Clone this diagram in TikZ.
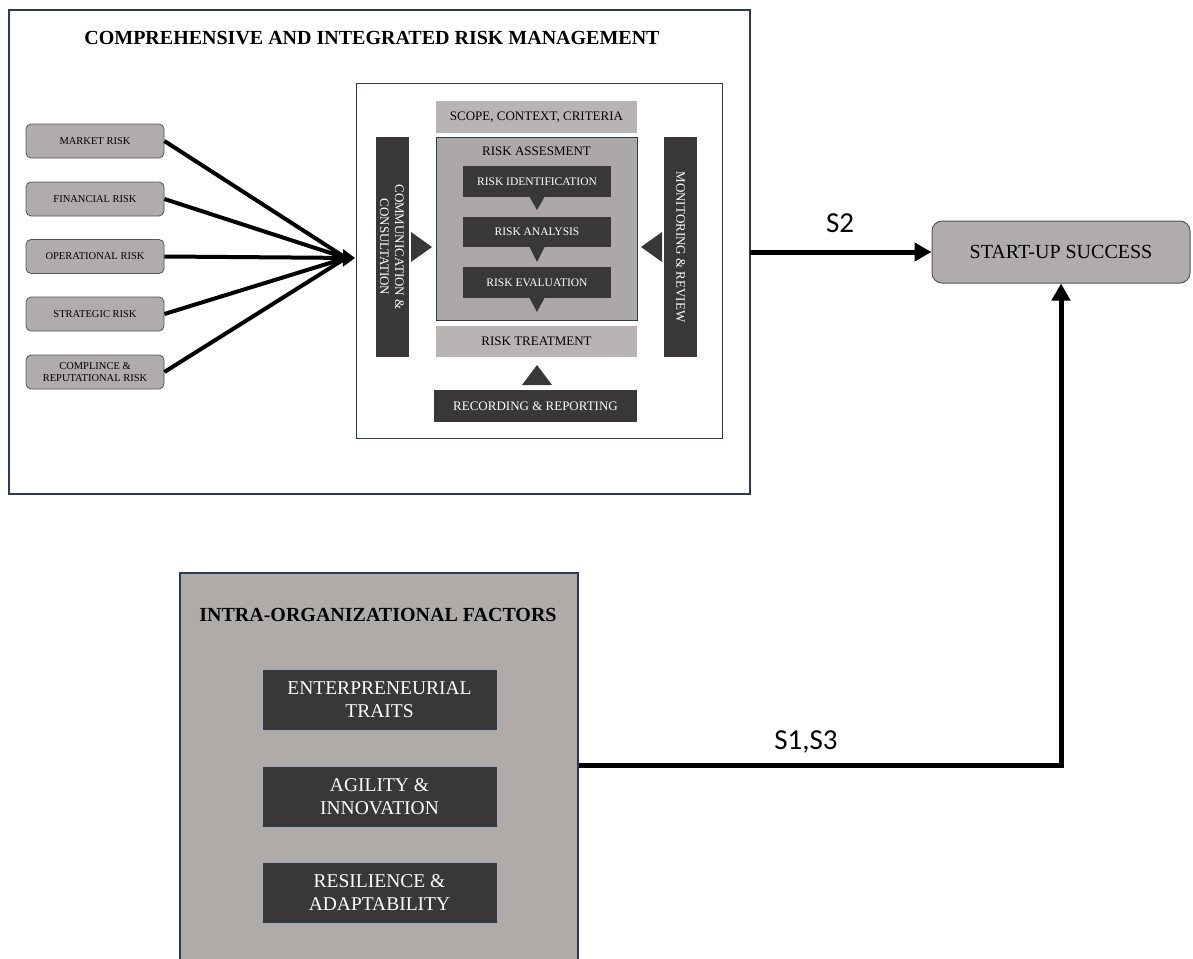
\documentclass[tikz,border=0pt]{standalone}
\usepackage{fontspec}
\setmainfont{Liberation Serif}
\newfontfamily\labfont{Carlito}
\usetikzlibrary{arrows.meta}
\definecolor{navy}{HTML}{2B3A55}
\definecolor{boxgray}{HTML}{B0ACAB}
\definecolor{lightgrayb}{HTML}{B7B4B3}
\definecolor{midgray}{HTML}{ACA8A7}
\definecolor{intragray}{HTML}{AFABA9}
\definecolor{darkbox}{HTML}{3A3837}
\definecolor{edgegray}{HTML}{555555}
\tikzset{
  riskbox/.style={draw=edgegray, line width=0.8pt, fill=boxgray, rounded corners=5pt,
    minimum width=138pt, minimum height=34pt, inner sep=0pt, align=center,
    font=\fontsize{10.5}{12}\selectfont},
  lightbar/.style={fill=lightgrayb, minimum width=201pt, minimum height=32pt, inner sep=0pt,
    font=\fontsize{13}{15}\selectfont},
  darkstep/.style={fill=darkbox, text=white, minimum width=148pt, minimum height=31pt,
    inner sep=0pt, font=\fontsize{11.5}{13}\selectfont},
  vbar/.style={fill=darkbox, text=white, rotate=-90, minimum width=220pt, minimum height=33pt,
    inner sep=0pt, align=center, font=\fontsize{13}{15}\selectfont},
  factorbox/.style={draw=navy, line width=1pt, fill=darkbox, text=white, minimum width=233pt,
    minimum height=59pt, inner sep=0pt, align=center, font=\fontsize{19.5}{23}\selectfont},
  riskline/.style={line width=4pt},
  bigline/.style={line width=5pt},
  slabel/.style={font=\labfont\fontsize{29}{32}\selectfont, inner sep=0pt},
  bigtitle/.style={font=\bfseries\fontsize{20}{22}\selectfont, inner sep=0pt}
}
\begin{document}
\begin{tikzpicture}[x=1pt,y=-1pt]
\useasboundingbox (0,0) rectangle (1193,958);
\fill[white] (0,0) rectangle (1193,958);

% outer risk management box
\node[draw=navy, line width=1.5pt, minimum width=741pt, minimum height=484pt, inner sep=0pt] (outer) at (379.5,252) {};
\node[bigtitle] (title) at (372,38) {COMPREHENSIVE AND INTEGRATED RISK MANAGEMENT};

% risk boxes
\node[riskbox] (market) at (95,141) {MARKET RISK};
\node[riskbox] (financial) at (95,199) {FINANCIAL RISK};
\node[riskbox] (oper) at (95,256.5) {OPERATIONAL RISK};
\node[riskbox] (strat) at (95,314) {STRATEGIC RISK};
\node[riskbox] (compl) at (95,372) {COMPLINCE \&\\REPUTATIONAL RISK};

% framework
\node[draw=navy, line width=1pt, fill=white, minimum width=366pt, minimum height=355pt, inner sep=0pt] (frame) at (539,260.5) {};
\node[lightbar] (scope) at (536.5,117) {SCOPE, CONTEXT, CRITERIA};
\node[draw=navy, line width=0.8pt, fill=midgray, minimum width=201pt, minimum height=183pt, inner sep=0pt] (assess) at (536.5,228.5) {};
\node[inner sep=0pt, font=\fontsize{13}{15}\selectfont] (assesslbl) at (536.5,151) {RISK ASSESMENT};
\node[darkstep] (ident) at (537,181.5) {RISK IDENTIFICATION};
\fill[darkbox] (529,196) -- (545,196) -- (537,210) -- cycle;
\node[darkstep, minimum height=30pt] (analysis) at (537,232) {RISK ANALYSIS};
\fill[darkbox] (529,246) -- (545,246) -- (537,262) -- cycle;
\node[darkstep] (eval) at (537,282.5) {RISK EVALUATION};
\fill[darkbox] (529,297) -- (545,297) -- (537,312) -- cycle;
\node[lightbar, minimum height=31pt] (treat) at (536.5,341.5) {RISK TREATMENT};
\fill[darkbox] (522,385) -- (552,385) -- (537,365) -- cycle;
\node[fill=darkbox, text=white, minimum width=203pt, minimum height=32pt, inner sep=0pt,
  font=\fontsize{13}{15}\selectfont] (record) at (535.5,406) {RECORDING \& REPORTING};
\node[vbar] (comm) at (392,247) {COMMUNICATION \&\\CONSULTATION};
\fill[darkbox] (411,232) -- (411,262) -- (432,247) -- cycle;
\node[vbar] (monitor) at (680.5,247) {MONITORING \& REVIEW};
\fill[darkbox] (662,232) -- (662,262) -- (641,247) -- cycle;

% converging arrows
\coordinate (conv) at (355,258);
\coordinate (convin) at (346,258);
\draw[riskline] (market.east) -- (convin);
\draw[riskline] (financial.east) -- (convin);
\draw[riskline] (strat.east) -- (convin);
\draw[riskline] (compl.east) -- (convin);
\draw[riskline, -{Triangle[length=12pt,width=17pt]}] (oper.east) -- (conv);

% start-up success
\node[draw=edgegray, line width=1pt, fill=boxgray, rounded corners=10pt, minimum width=258pt,
  minimum height=62pt, inner sep=0pt, font=\fontsize{20}{22}\selectfont] (startup) at (1061,252) {START-UP SUCCESS};
\coordinate (s2start) at (750,252);
\draw[bigline, -{Triangle[length=17pt,width=18pt]}] (s2start) -- (startup.west);
\node[slabel] (s2) at (840,223) {S2};

% intra-organizational factors
\node[draw=navy, line width=1.5pt, fill=intragray, minimum width=398pt, minimum height=410pt, inner sep=0pt] (intra) at (379,778) {};
\node[bigtitle] (intratitle) at (378,615) {INTRA-ORGANIZATIONAL FACTORS};
\node[factorbox] (ent) at (379.5,699.5) {ENTERPRENEURIAL\\TRAITS};
\node[factorbox] (agi) at (379.5,796.5) {AGILITY \&\\INNOVATION};
\node[factorbox] (res) at (379.5,892.5) {RESILIENCE \&\\ADAPTABILITY};

\coordinate (hline) at (0,765);
\coordinate (intraE) at (intra.east |- hline);
\draw[bigline, -{Triangle[length=17pt,width=18pt]}] (intraE) -| (startup.south);
\node[slabel] (s13) at (806,742) {S1,S3};
\end{tikzpicture}
\end{document}
